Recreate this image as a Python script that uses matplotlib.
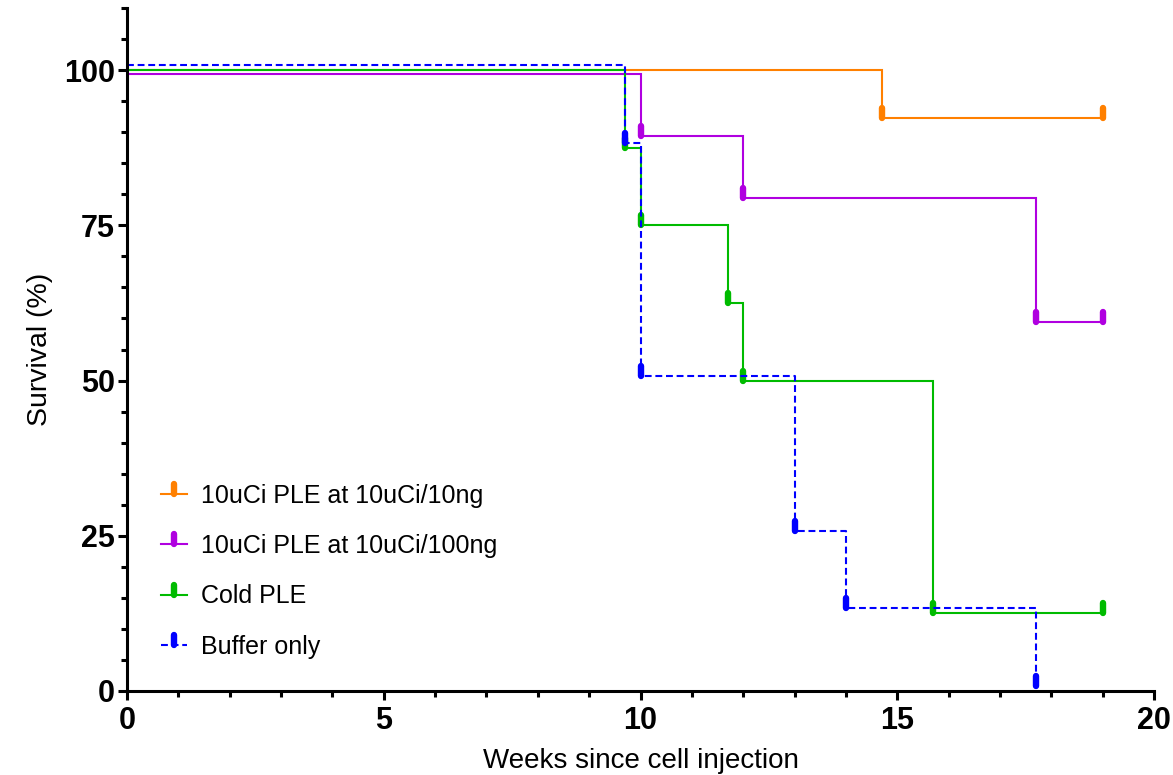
import matplotlib
matplotlib.use("Agg")
import matplotlib.pyplot as plt
from matplotlib.path import Path
from matplotlib.markers import MarkerStyle
from matplotlib.ticker import MultipleLocator

plt.rcParams['font.family'] = ['Liberation Sans', 'DejaVu Sans']

# Kaplan-Meier survival data (time in weeks, survival in %)
labels = ["10uCi PLE at 10uCi/10ng", "10uCi PLE at 10uCi/100ng",
          "Cold PLE", "Buffer only"]

orange_t = [0, 14.7, 19]
orange_s = [100, 92.3, 92.3]

purple_t = [0, 10, 12, 17.7, 19]
purple_s = [100, 90, 80, 60, 60]

green_t = [0, 9.7, 10, 11.7, 12, 15.7, 19]
green_s = [100, 87.5, 75, 62.5, 50, 12.5, 12.5]

blue_t = [0, 9.7, 10, 13, 14, 17.7]
blue_s = [100, 87.5, 50, 25, 12.5, 0]

x_ticks = [0, 5, 10, 15, 20]
y_ticks = [0, 25, 50, 75, 100]

# style per curve: colour, line style, small vertical nudge to keep curves apart
styles = [
    dict(color="#FF8000", ls="-", nudge=0.0),
    dict(color="#B000E0", ls="-", nudge=-0.6),
    dict(color="#00BB00", ls="-", nudge=0.0),
    dict(color="#0000FF", ls=(0, (3.3, 1.8)), nudge=0.8),
]
series = [(orange_t, orange_s), (purple_t, purple_s),
          (green_t, green_s), (blue_t, blue_s)]

# vertical tick mark rising from the curve
tick_marker = MarkerStyle(Path([(0, 0), (0, 1)]), capstyle="round")
mark_kw = dict(marker=tick_marker, markersize=15, markeredgewidth=4.6)

fig = plt.figure(figsize=(11.73, 7.75), dpi=100)
ax = fig.add_axes([127 / 1173, 84 / 775, 1027 / 1173, 683 / 775])

for (t, s), st, lab in zip(series, styles, labels):
    sv = [v + st["nudge"] for v in s]
    ax.step(t, sv, where="post", color=st["color"], lw=1.5,
            linestyle=st["ls"], solid_joinstyle="miter")
    ax.plot(t[1:], sv[1:], linestyle="none", color=st["color"],
            markeredgecolor=st["color"], clip_on=False, **mark_kw)
    ax.plot([], [], color=st["color"], lw=1.5, linestyle=st["ls"],
            markeredgecolor=st["color"], label=lab, **mark_kw)

ax.set_xlim(0, 20)
ax.set_ylim(0, 110)
ax.set_xticks(x_ticks)
ax.set_yticks(y_ticks)
ax.xaxis.set_minor_locator(MultipleLocator(1))
ax.yaxis.set_minor_locator(MultipleLocator(5))

for side in ("top", "right"):
    ax.spines[side].set_visible(False)
for side in ("left", "bottom"):
    ax.spines[side].set_linewidth(2.2)

ax.tick_params(which="major", length=6.5, width=2.2, direction="out",
               labelsize=22)
ax.tick_params(axis="y", which="major", pad=2)
ax.tick_params(axis="x", which="major", pad=4)
ax.tick_params(which="minor", length=4.3, width=2.2, direction="out")
for lbl in ax.get_xticklabels() + ax.get_yticklabels():
    lbl.set_fontweight("bold")

ax.set_xlabel("Weeks since cell injection", fontsize=20, labelpad=9)
ax.set_ylabel("Survival (%)", fontsize=20.5, labelpad=8)

leg = ax.legend(loc="upper left", bbox_to_anchor=(0.023, 0.318),
                frameon=False, fontsize=18, handlelength=1.05,
                handletextpad=0.56, labelspacing=1.05, borderaxespad=0)

fig.savefig("out.png", dpi=100)
